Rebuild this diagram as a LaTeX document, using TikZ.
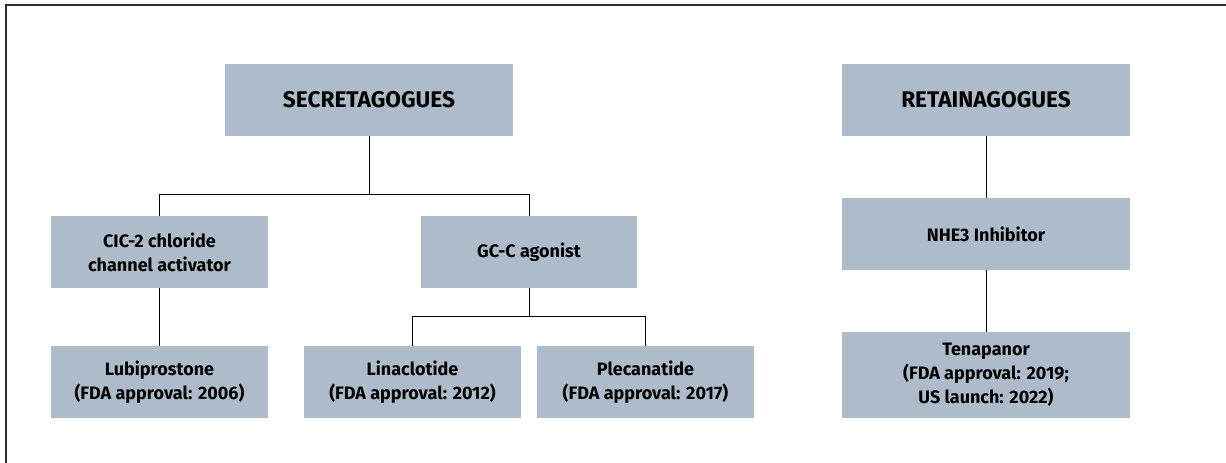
\documentclass[tikz,border=0pt]{standalone}
\usepackage{fontspec}
\setmainfont{Fira Sans}
\definecolor{BoxColor}{RGB}{173,187,202}
\definecolor{FrameColor}{RGB}{45,45,45}
\usetikzlibrary{positioning}
\tikzstyle{classbox} = [fill=BoxColor, minimum height=54pt, inner sep=0pt, align=center, font=\fontsize{13.5}{18}\selectfont\bfseries]
\tikzstyle{headbox} = [classbox, minimum width=216pt, font=\fontsize{17}{18}\selectfont\bfseries]
\tikzstyle{link} = [line width=0.75pt, black]

\begin{document}
\begin{tikzpicture}[x=0.75pt, y=-0.75pt]
    \useasboundingbox (0,0) rectangle (1226,463);
    \draw[FrameColor, line width=0.9pt] (6,463) -- (6,5) -- (1226,5);

    % top row
    \node[headbox] (sec) at (369,100) {SECRETAGOGUES};
    \node[headbox] (ret) at (986,100) {RETAINAGOGUES};

    % mechanisms
    \node[classbox, minimum width=162.75pt] (cic) at (159.5,252) {CIC-2 chloride\\channel activator};
    \node[classbox, minimum width=162pt] (gcc) at (529,252) {GC-C agonist};
    \node[classbox, minimum width=216pt] (nhe) at (986,234) {NHE3 Inhibitor};

    % drugs
    \node[classbox, minimum width=162.75pt] (lub) at (159.5,382) {Lubiprostone\\(FDA approval: 2006)};
    \node[classbox, minimum width=162.75pt] (lin) at (412.5,382) {Linaclotide\\(FDA approval: 2012)};
    \node[classbox, minimum width=162.75pt] (ple) at (645.5,382) {Plecanatide\\(FDA approval: 2017)};
    \node[classbox, minimum width=216pt, minimum height=64.5pt] (ten) at (986,375) {Tenapanor\\(FDA approval: 2019;\\US launch: 2022)};

    % tree lines
    \draw[link] (sec.south) -- ++(0,58) coordinate (secjoint);
    \draw[link] (cic.north) |- (secjoint) -| (gcc.north);
    \draw[link] (cic.south) -- (lub.north);
    \draw[link] (gcc.south) -- ++(0,28) coordinate (gccjoint);
    \draw[link] (lin.north) |- (gccjoint) -| (ple.north);
    \draw[link] (ret.south) -- (nhe.north);
    \draw[link] (nhe.south) -- (ten.north);
\end{tikzpicture}
\end{document}
